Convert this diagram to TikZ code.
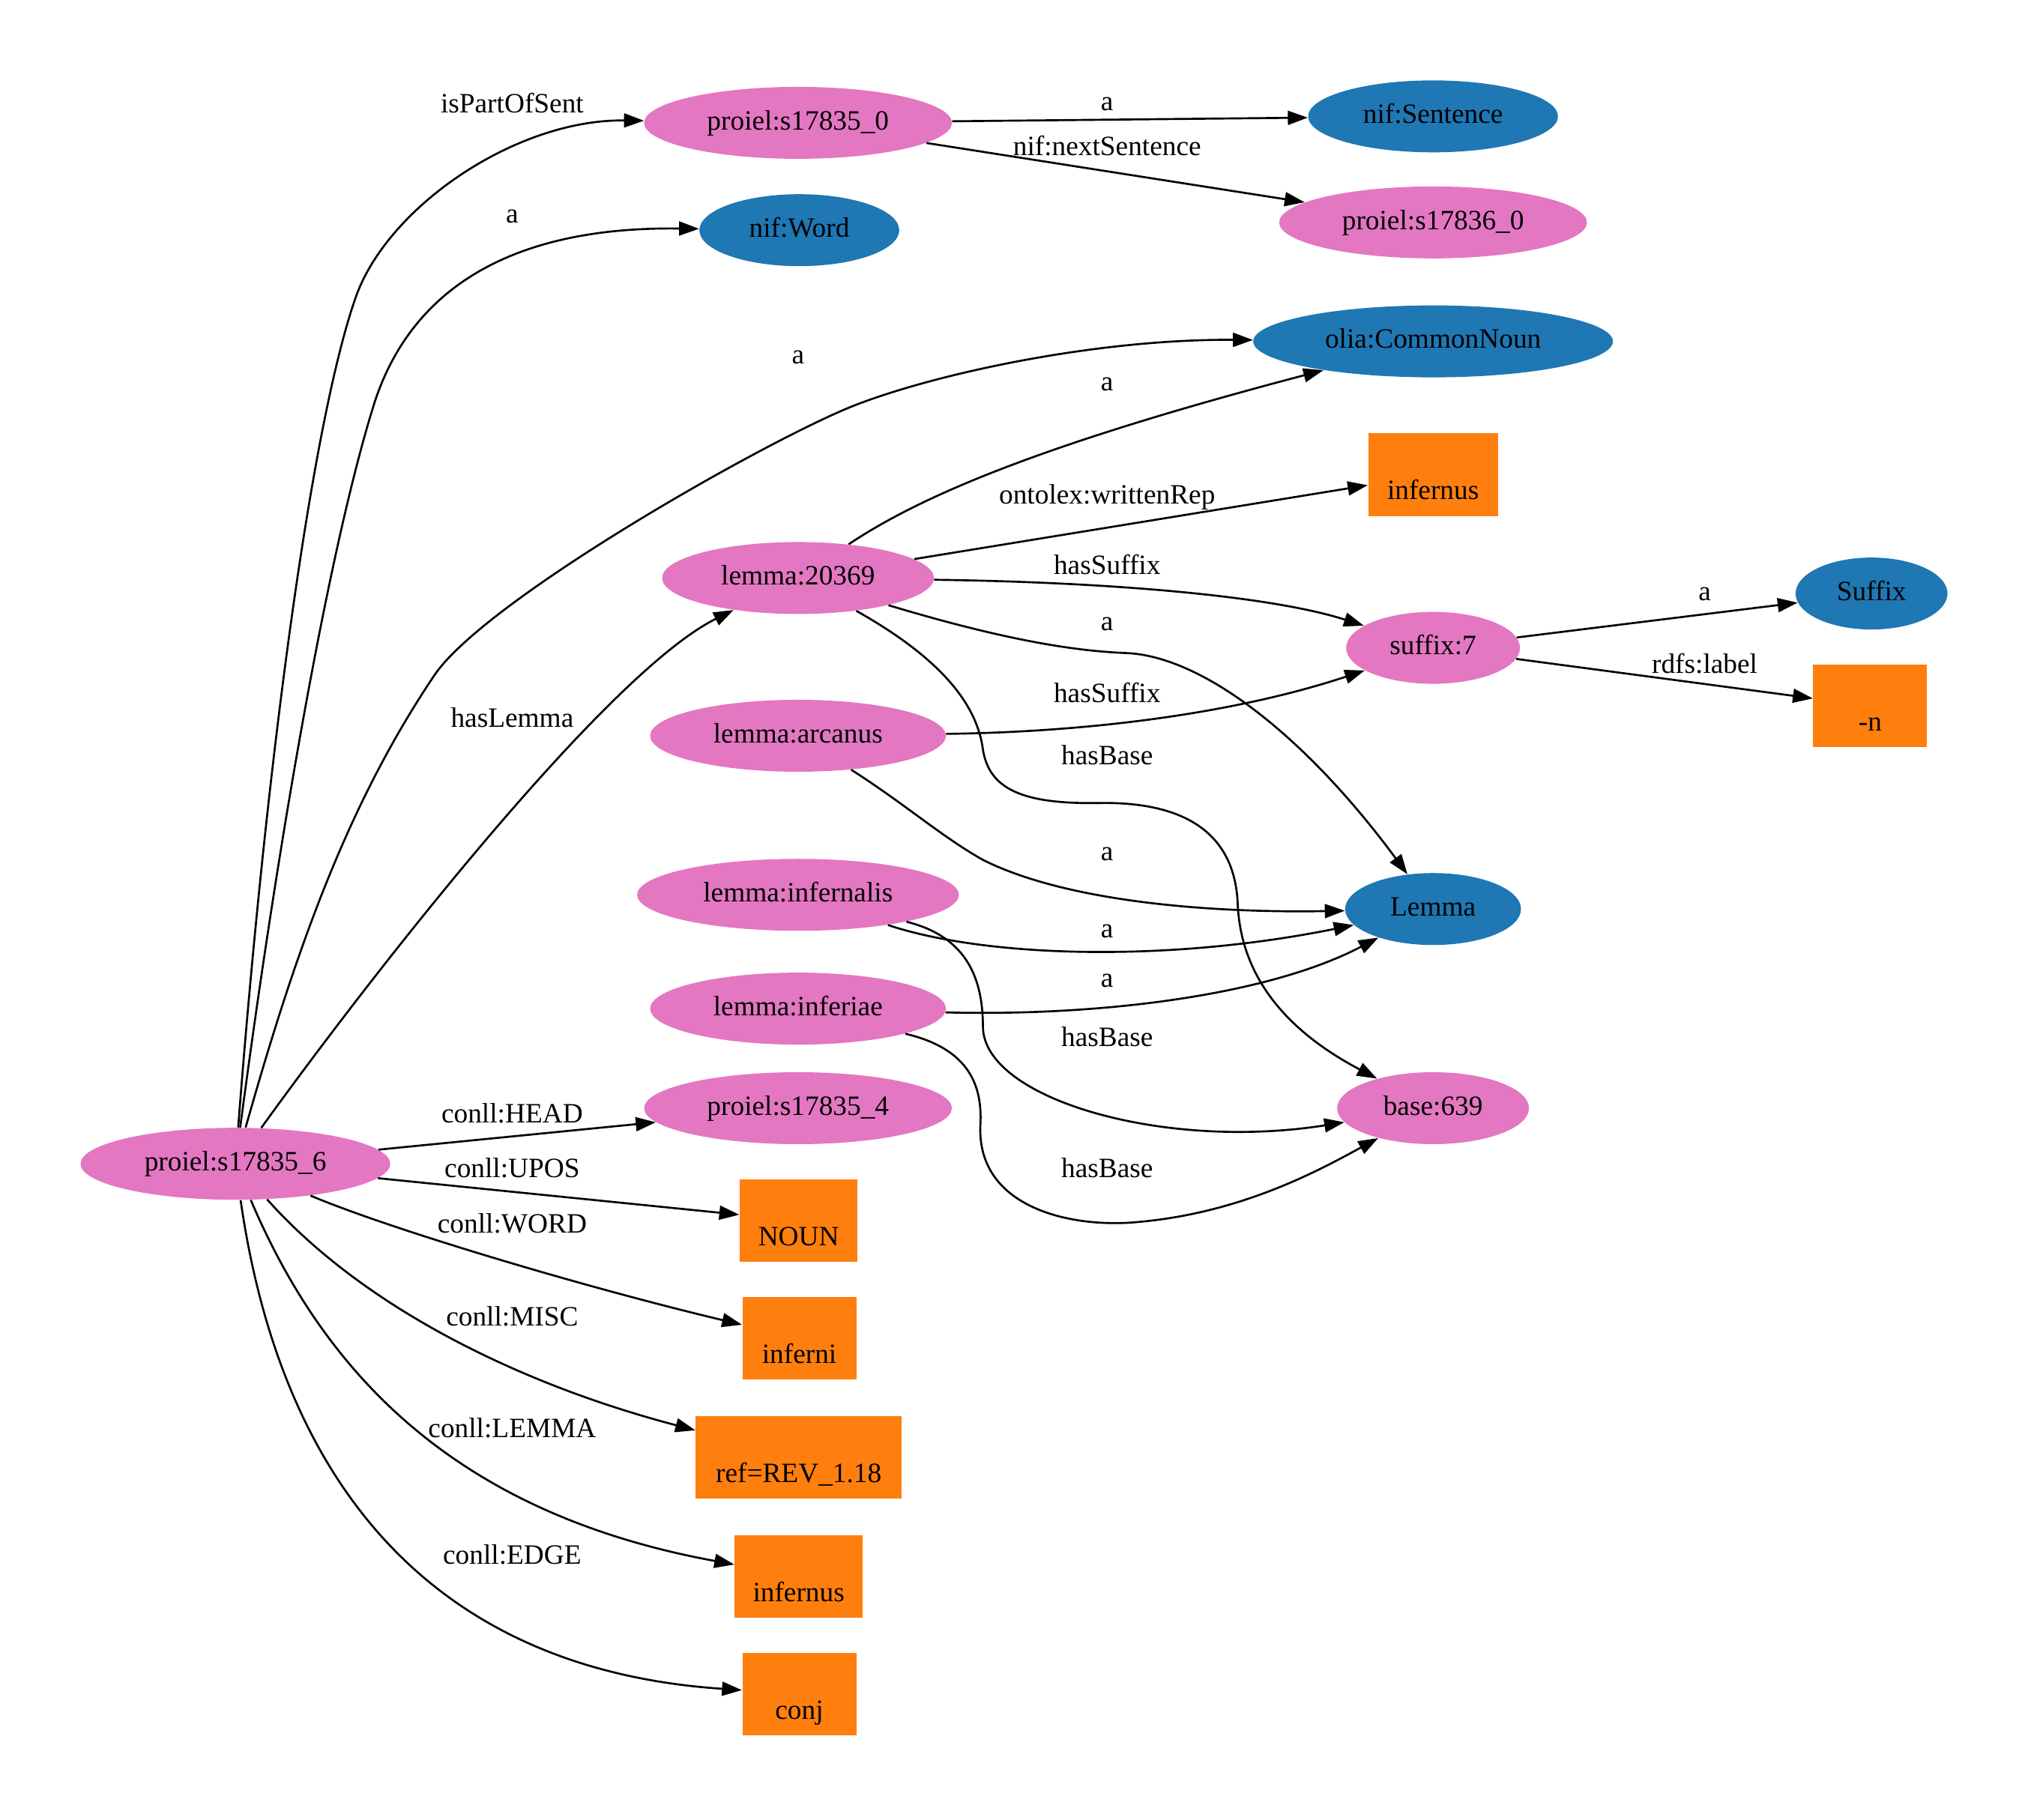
\documentclass[tikz,border=0pt]{standalone}
\usepackage{fontspec}
\setmainfont{Liberation Serif}
\usetikzlibrary{shapes.geometric,arrows.meta}
\definecolor{pinkn}{HTML}{E377C2}
\definecolor{bluen}{HTML}{1F77B4}
\definecolor{orangen}{HTML}{FF7F0E}
\newcommand\lowtxt[1]{\smash{\raisebox{-9.1pt}{#1}}}
\begin{document}
\begin{tikzpicture}[x=0.6472pt,y=-0.6472pt,
  font=\fontsize{14}{16.8}\selectfont,
  every node/.style={inner sep=0pt, text height=9.8pt, text depth=2.8pt},
  ell/.style={ellipse, draw=none, minimum height=36pt},
  pk/.style={ell, fill=pinkn},
  bl/.style={ell, fill=bluen},
  lit/.style={rectangle, draw=none, fill=orangen, minimum height=41.4pt},
  edge/.style={-{Triangle[length=10pt,width=7pt]}, line width=1pt, black},
  lbl/.style={}]
\useasboundingbox (0,0) rectangle (1568,1407);
% nodes
\node[pk, minimum width=154pt] (s0) at (617,95) {proiel:s17835\_0};
\node[bl, minimum width=125pt] (nifsent) at (1108,90) {nif:Sentence};
\node[pk, minimum width=154pt] (s36) at (1108,172) {proiel:s17836\_0};
\node[bl, minimum width=100pt] (nifword) at (618,178) {nif:Word};
\node[bl, minimum width=180pt] (olia) at (1108,264) {olia:CommonNoun};
\node[lit, minimum width=65pt] (wrep) at (1108,367) {\lowtxt{infernus}};
\node[pk, minimum width=136pt] (lem) at (617,447) {lemma:20369};
\node[pk, minimum width=87pt] (suf) at (1108,501) {suffix:7};
\node[bl, minimum width=76pt] (sufcls) at (1447,459) {Suffix};
\node[lit, minimum width=57pt] (dashn) at (1446,546) {\lowtxt{-n}};
\node[pk, minimum width=148pt] (arc) at (617,569) {lemma:arcanus};
\node[bl, minimum width=88pt] (lemcls) at (1108,703) {Lemma};
\node[pk, minimum width=161pt] (infl) at (617,692) {lemma:infernalis};
\node[pk, minimum width=148pt] (infr) at (617,780) {lemma:inferiae};
\node[pk, minimum width=96pt] (base) at (1108,857) {base:639};
\node[pk, minimum width=154pt] (s4) at (617,857) {proiel:s17835\_4};
\node[pk, minimum width=155pt] (s6) at (182,900) {proiel:s17835\_6};
\node[lit, minimum width=59pt] (noun) at (617.5,944) {\lowtxt{NOUN}};
\node[lit, minimum width=57pt] (inferni) at (618,1035) {\lowtxt{inferni}};
\node[lit, minimum width=103pt] (misc) at (617.5,1127) {\lowtxt{ref=REV\_1.18}};
\node[lit, minimum width=64pt] (lemlit) at (617.5,1219) {\lowtxt{infernus}};
\node[lit, minimum width=57pt] (conj) at (618,1310) {\lowtxt{conj}};
% edges from proiel:s17835_6
\draw[edge] (s6) .. controls (205,600) and (240,330) .. (275,230) .. controls (300,159) and (400,92) .. (s0);
\draw[edge] (s6) .. controls (215,650) and (255,420) .. (290,310) .. controls (320,220) and (400,175) .. (nifword);
\draw[edge] (s6) .. controls (230,730) and (270,620) .. (336,522) .. controls (376,463) and (597,338) .. (662,313) .. controls (727,288) and (850,262) .. (olia);
\draw[edge] (s6) .. controls (290,750) and (470,520) .. (lem);
\draw[edge] (s6) -- (s4);
\draw[edge] (s6) -- (noun);
\draw[edge] (s6) .. controls (300,950) and (450,995) .. (inferni);
\draw[edge] (s6) .. controls (280,1010) and (400,1070) .. (misc);
\draw[edge] (s6) .. controls (250,1060) and (350,1170) .. (lemlit);
\draw[edge] (s6) .. controls (215,1130) and (320,1290) .. (conj);
% edges from proiel:s17835_0
\draw[edge] (s0) -- (nifsent);
\draw[edge] (s0) -- (s36);
% edges from lemma:20369
\draw[edge] (lem) .. controls (710,385) and (800,345) .. (olia);
\draw[edge] (lem) -- (wrep);
\draw[edge] (lem) .. controls (850,450) and (980,460) .. (suf);
\draw[edge] (lem) .. controls (760,490) and (820,503) .. (870,505) .. controls (930,507) and (1010,570) .. (lemcls);
\draw[edge] (lem) .. controls (720,505) and (755,540) .. (760,580) .. controls (765,610) and (790,622) .. (850,621) .. controls (910,620) and (955,640) .. (957,700) .. controls (960,760) and (1000,800) .. (base);
% lemma:arcanus
\draw[edge] (arc) .. controls (850,566) and (960,550) .. (suf);
\draw[edge] (arc) .. controls (700,622) and (728,647) .. (760,665) .. controls (830,700) and (950,706) .. (lemcls);
% lemma:infernalis
\draw[edge] (infl) .. controls (760,740) and (900,745) .. (lemcls);
\draw[edge] (infl) .. controls (750,725) and (760,760) .. (760,795) .. controls (762,850) and (900,890) .. (base);
% lemma:inferiae
\draw[edge] (infr) .. controls (850,786) and (980,770) .. (lemcls);
\draw[edge] (infr) .. controls (745,810) and (760,835) .. (758,870) .. controls (755,935) and (830,950) .. (880,945) .. controls (960,938) and (1020,905) .. (base);
% suffix:7
\draw[edge] (suf) -- (sufcls);
\draw[edge] (suf) -- (dashn);
% edge labels
\node[lbl] (l1) at (396,82) {isPartOfSent};
\node[lbl] (l2) at (396,167) {a};
\node[lbl] (l3) at (617,276) {a};
\node[lbl] (l4) at (396,557) {hasLemma};
\node[lbl] (l5) at (396,863) {conll:HEAD};
\node[lbl] (l6) at (396,905) {conll:UPOS};
\node[lbl] (l7) at (396,948) {conll:WORD};
\node[lbl] (l8) at (396,1020) {conll:MISC};
\node[lbl] (l9) at (396,1106) {conll:LEMMA};
\node[lbl] (l10) at (396,1204) {conll:EDGE};
\node[lbl] (l11) at (856,80) {a};
\node[lbl] (l12) at (856,115) {nif:nextSentence};
\node[lbl] (l13) at (856,297) {a};
\node[lbl] (l14) at (856,384) {ontolex:writtenRep};
\node[lbl] (l15) at (856,439) {hasSuffix};
\node[lbl] (l16) at (856,482) {a};
\node[lbl] (l17) at (856,538) {hasSuffix};
\node[lbl] (l18) at (856,586) {hasBase};
\node[lbl] (l19) at (856,660) {a};
\node[lbl] (l20) at (856,720) {a};
\node[lbl] (l21) at (856,758) {a};
\node[lbl] (l22) at (856,804) {hasBase};
\node[lbl] (l23) at (856,905) {hasBase};
\node[lbl] (l24) at (1318,459) {a};
\node[lbl] (l25) at (1318,515) {rdfs:label};
\end{tikzpicture}
\end{document}
